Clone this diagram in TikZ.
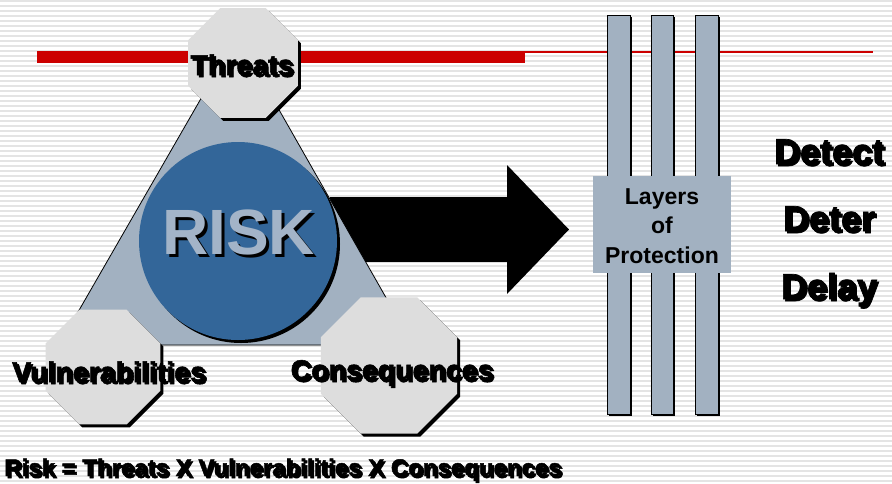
\documentclass[tikz,border=0pt]{standalone}
\usepackage{fontspec}
\setmainfont{Liberation Sans}
\newfontfamily\heavyfont{Liberation Sans Bold}[FakeBold=2]
\definecolor{bgline}{RGB}{228,228,228}
\definecolor{riskred}{RGB}{204,0,0}
\definecolor{slate}{RGB}{162,177,193}
\definecolor{octfill}{RGB}{221,221,221}
\definecolor{riskblue}{RGB}{51,102,153}
\definecolor{risktext}{RGB}{163,180,200}
\newcommand\myoct[3]{%
  \fill[black,shift={(#1+3,#2+3)}] (22.5:#3) \foreach \a in {67.5,112.5,...,337.5} {-- (\a:#3)} -- cycle;
  \fill[octfill,shift={(#1,#2)}] (22.5:#3) \foreach \a in {67.5,112.5,...,337.5} {-- (\a:#3)} -- cycle;
}
% text with a drop shadow, in one box
\newcommand\shtxt[3]{\rlap{\hspace{#3}\raisebox{-#3}{\textcolor{#2}{#1}}}#1}
\newcommand\mypillar[2]{%
  \fill[black] (#1+2,17) rectangle (#2+2,416);
  \filldraw[fill=slate,draw=black,line width=0.6pt] (#1,15) rectangle (#2,414);
}
\tikzset{
  lbl/.style={font=\heavyfont\fontsize{28.5}{34}\selectfont, anchor=base},
  formula/.style={font=\heavyfont\fontsize{24}{28}\selectfont, anchor=base},
  ddd/.style={font=\heavyfont\fontsize{36}{40}\selectfont, anchor=base},
  layertxt/.style={font=\bfseries\fontsize{23}{27}\selectfont, anchor=base},
}
\begin{document}
\begin{tikzpicture}[x=1pt,y=-1pt,inner sep=0pt,outer sep=0pt]
\useasboundingbox (0,0) rectangle (892,483);
\fill[white] (0,0) rectangle (892,483);
\foreach \yy in {1,6,...,481} \draw[bgline,line width=1.6pt] (0,\yy) -- (892,\yy);
% red bars
\fill[riskred] (37,51) rectangle (525,63);
\draw[riskred,line width=1.5pt] (525,52) -- (873,52);
% arrow
\fill[black] (330,197) -- (507,197) -- (507,165) -- (569,229.5) -- (507,294) -- (507,262) -- (330,262) -- cycle;
% triangle
\filldraw[fill=slate,draw=black,line width=0.8pt] (237,36) -- (413,345) -- (59,345) -- cycle;
% circle
\fill[black] (241,244) circle (99pt);
\fill[riskblue] (238,241) circle (99pt);
\node[font=\bfseries\fontsize{64}{70}\selectfont,anchor=base,text=risktext] (risk) at (238.5,254) {\shtxt{RISK}{black}{3pt}};
% octagons
\myoct{243}{63}{59.5}
\myoct{103}{367}{62}
\myoct{389}{365.5}{73.7}
\node[lbl] (threats) at (242,75) {\shtxt{Threats}{black}{2pt}};
\node[lbl] (vuln) at (109,382) {\shtxt{Vulnerabilities}{black}{2pt}};
\node[lbl] (conseq) at (392,380) {\shtxt{Consequences}{black}{2pt}};
\node[formula] (formula) at (283,476) {\shtxt{Risk = Threats X Vulnerabilities X Consequences}{black}{2pt}};
% pillars
\mypillar{607}{630}
\mypillar{651}{673}
\mypillar{695}{718}
\fill[slate] (593,176) rectangle (731,273);
\node[layertxt] (layers) at (662,204) {Layers};
\node[layertxt] (of) at (662,233.5) {of};
\node[layertxt] (protection) at (662,263) {Protection};
% detect deter delay
\node[ddd] (detect) at (829,164) {\shtxt{Detect}{black}{2pt}};
\node[ddd] (deter) at (829,231) {\shtxt{Deter}{black}{2pt}};
\node[ddd] (delay) at (829,299) {\shtxt{Delay}{black}{2pt}};
\end{tikzpicture}
\end{document}
